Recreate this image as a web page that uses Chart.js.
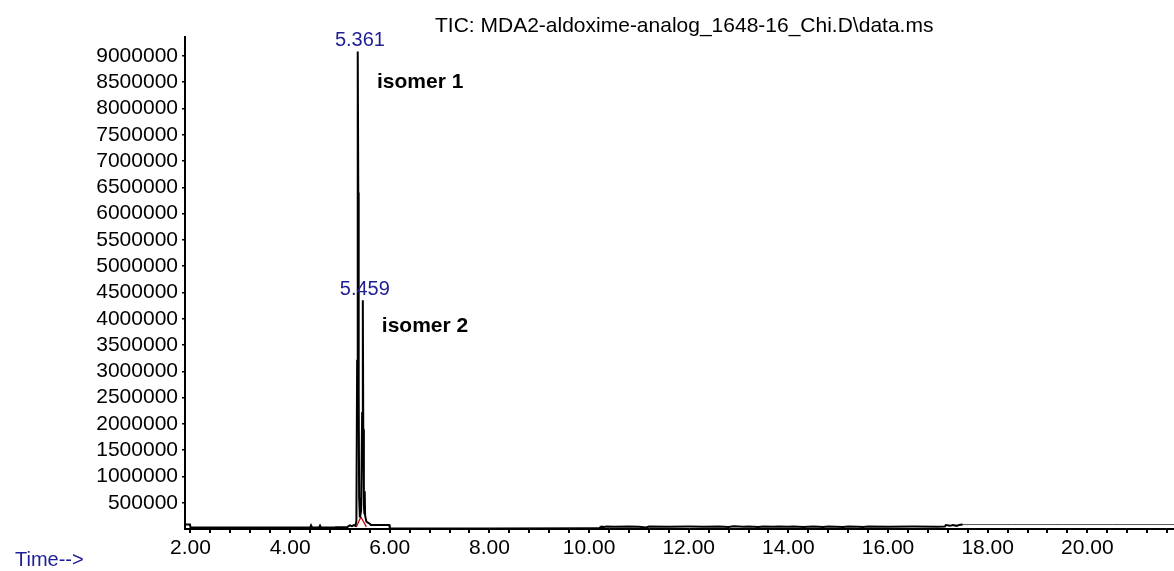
<!DOCTYPE html>
<html>
<head>
<meta charset="utf-8">
<title>TIC: MDA2-aldoxime-analog_1648-16_Chi.D\data.ms</title>
<script src="https://cdn.jsdelivr.net/npm/chart.js@4.4.1/dist/chart.umd.min.js"></script>
<style>
  html, body { margin: 0; padding: 0; background: #fff; }
  #wrap { position: relative; width: 1174px; height: 571px; }
</style>
</head>
<body>
<div id="wrap"><canvas id="tic"></canvas></div>
<script>
// TIC trace, retention time (min) vs abundance
const rtMin = [
  1.89, 1.99, 2.00, 2.40, 2.80, 3.20, 3.60, 4.00, 4.40, 4.42, 4.44, 4.58, 4.60, 4.62,
  4.90, 5.15, 5.20, 5.24, 5.28, 5.31, 5.33, 5.345, 5.353, 5.361, 5.368, 5.376, 5.385,
  5.40, 5.425, 5.445, 5.459, 5.468, 5.480, 5.490, 5.497, 5.505, 5.53, 5.56, 5.60, 5.62,
  5.80, 5.99, 6.00, 8.00, 10.18,
  10.20, 10.25, 10.30, 10.35, 10.50, 10.80, 11.00, 11.15, 11.20, 11.60, 12.00, 12.30,
  12.60, 12.80, 12.90, 13.10, 13.20, 13.40, 13.50, 13.70, 13.80, 14.00, 14.10, 14.30,
  14.50, 14.70, 14.80, 15.10, 15.20, 15.40, 15.50, 15.60, 16.00, 16.50, 17.00, 17.14,
  17.16, 17.25, 17.30, 17.38, 17.42, 17.50
];
const ticCounts = [
  85000, 85000, 30000, 28000, 30000, 28000, 30000, 28000, 30000, 70000, 30000, 30000, 65000, 30000,
  32000, 40000, 70000, 55000, 75000, 60000, 150000, 3200000, 6600000, 9085000, 6400000, 2600000, 600000,
  220000, 350000, 2200000, 4350000, 1900000, 450000, 300000, 720000, 260000, 140000, 120000, 100000, 78000,
  76000, 76000, 12000, 10000, 12000,
  15000, 45000, 40000, 48000, 45000, 48000, 45000, 30000, 48000, 45000, 48000, 45000,
  48000, 40000, 50000, 42000, 48000, 40000, 48000, 42000, 48000, 42000, 48000, 40000,
  48000, 38000, 48000, 40000, 48000, 45000, 38000, 48000, 45000, 48000, 45000, 48000,
  75000, 60000, 75000, 60000, 75000, 85000
];

// tail after 17.5 min, a fainter single line
const lateRt = [17.50, 18.50, 19.50, 20.50, 21.74];
const lateCounts = [85000, 85000, 85000, 85000, 85000];

// red integration baseline under the isomer pair
const baseRt = [5.33, 5.42, 5.53];
const baseCounts = [40000, 230000, 40000];

// labelled peaks
const peakRt = [5.361, 5.459];
const peakCounts = [9085000, 4350000];
const peakLabels = ['5.361', '5.459'];
const peakNames = ['isomer 1', 'isomer 2'];

// axis ticks
const yTicks = [500000, 1000000, 1500000, 2000000, 2500000, 3000000, 3500000, 4000000, 4500000,
  5000000, 5500000, 6000000, 6500000, 7000000, 7500000, 8000000, 8500000, 9000000];
const xLabelTicks = [2, 4, 6, 8, 10, 12, 14, 16, 18, 20];
const xMinorStep = 0.4;

const FONT = '"Liberation Sans", Arial, sans-serif';
const BLUE = '#1e1e96';

const annotate = {
  id: 'annotate',
  afterDatasetsDraw(chart) {
    const ctx = chart.ctx;
    const xs = chart.scales.x, ys = chart.scales.y;
    ctx.save();
    ctx.textBaseline = 'alphabetic';

    ctx.fillStyle = '#000';
    ctx.font = '21px ' + FONT;
    ctx.textAlign = 'left';
    ctx.fillText('TIC: MDA2-aldoxime-analog_1648-16_Chi.D\\data.ms', 435, 32);

    ctx.fillStyle = BLUE;
    ctx.font = '20px ' + FONT;
    ctx.fillText('Time-->', 15, 566);

    // retention time over each peak, name to the right
    const nameDrop = [37, 32];
    peakRt.forEach((rt, i) => {
      const px = xs.getPixelForValue(rt);
      const py = ys.getPixelForValue(peakCounts[i]);
      ctx.fillStyle = BLUE;
      ctx.font = '20px ' + FONT;
      ctx.textAlign = 'center';
      ctx.fillText(peakLabels[i], px + 2, py - 5);
      ctx.fillStyle = '#000';
      ctx.font = 'bold 21px ' + FONT;
      ctx.textAlign = 'left';
      ctx.fillText(peakNames[i], px + 19, py + nameDrop[i]);
    });
    ctx.restore();
  }
};

new Chart(document.getElementById('tic'), {
  type: 'line',
  data: {
    datasets: [
      {
        data: rtMin.map((t, i) => ({ x: t, y: ticCounts[i] })),
        borderColor: '#000',
        borderWidth: 2,
        pointRadius: 0,
        tension: 0
      },
      {
        data: lateRt.map((t, i) => ({ x: t, y: lateCounts[i] })),
        borderColor: '#555',
        borderWidth: 1,
        pointRadius: 0,
        tension: 0
      },
      {
        data: baseRt.map((t, i) => ({ x: t, y: baseCounts[i] })),
        borderColor: '#c00000',
        borderWidth: 1.2,
        pointRadius: 0,
        tension: 0
      }
    ]
  },
  options: {
    responsive: true,
    maintainAspectRatio: false,
    animation: false,
    layout: { padding: { top: 37, right: 0, left: 0, bottom: 0 } },
    plugins: {
      legend: { display: false },
      tooltip: { enabled: false },
      title: { display: false }
    },
    scales: {
      x: {
        type: 'linear',
        min: 1.89,
        max: 21.74,
        afterFit(scale) { scale.height = 42; },
        afterBuildTicks(scale) {
          const t = [];
          for (let i = 0; i <= 49; i++) t.push({ value: Math.round((2 + i * xMinorStep) * 10) / 10 });
          scale.ticks = t;
        },
        border: { display: true, color: '#000', width: 2 },
        grid: { drawOnChartArea: false, drawTicks: true, tickLength: 4, tickColor: '#000', lineWidth: 2 },
        ticks: {
          autoSkip: false,
          maxRotation: 0,
          padding: 3,
          color: '#000',
          font: { family: FONT, size: 21 },
          callback: v => xLabelTicks.includes(v) ? v.toFixed(2) : ''
        }
      },
      y: {
        min: 0,
        max: 9360000,
        afterFit(scale) { scale.width = 185; },
        afterBuildTicks(scale) { scale.ticks = yTicks.map(v => ({ value: v })); },
        border: { display: true, color: '#000', width: 2 },
        grid: { drawOnChartArea: false, drawTicks: true, tickLength: 3, tickColor: '#000', lineWidth: 1.5 },
        ticks: {
          padding: 4,
          color: '#000',
          font: { family: FONT, size: 21 },
          callback: v => String(v)
        }
      }
    }
  },
  plugins: [annotate]
});
</script>
</body>
</html>
